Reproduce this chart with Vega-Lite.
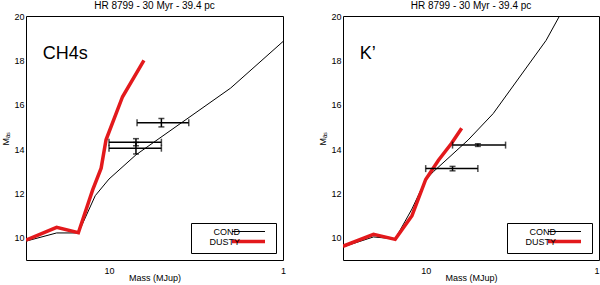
{
  "$schema": "https://vega.github.io/schema/vega-lite/v6.json",
  "padding": {"left": 1, "top": 0, "right": 3, "bottom": 0},
  "background": "white",
  "config": {
    "font": "Liberation Sans",
    "view": {"stroke": "black", "strokeWidth": 1},
    "axis": {"labelFont": "Liberation Sans", "titleFont": "Liberation Sans", "labelFontSize": 9, "titleFontSize": 9, "titleFontWeight": "normal", "labelColor": "black", "titleColor": "black", "domainColor": "black", "tickColor": "black", "grid": false},
    "title": {"font": "Liberation Sans", "fontSize": 10, "fontWeight": "normal", "color": "black", "offset": 1},
    "concat": {"spacing": 31}
  },
  "datasets": {
    "lines": [
      {"panel": "CH4s", "series": "COND", "m": 30, "y": 9.85},
      {"panel": "CH4s", "series": "COND", "m": 20, "y": 10.22},
      {"panel": "CH4s", "series": "COND", "m": 15, "y": 10.22},
      {"panel": "CH4s", "series": "COND", "m": 12, "y": 11.9},
      {"panel": "CH4s", "series": "COND", "m": 10, "y": 12.65},
      {"panel": "CH4s", "series": "COND", "m": 7, "y": 13.74},
      {"panel": "CH4s", "series": "COND", "m": 2, "y": 16.75},
      {"panel": "CH4s", "series": "COND", "m": 1, "y": 18.85},
      {"panel": "CH4s", "series": "DUSTY", "m": 30, "y": 9.9},
      {"panel": "CH4s", "series": "DUSTY", "m": 20, "y": 10.47},
      {"panel": "CH4s", "series": "DUSTY", "m": 15, "y": 10.23},
      {"panel": "CH4s", "series": "DUSTY", "m": 12.4, "y": 12.17},
      {"panel": "CH4s", "series": "DUSTY", "m": 11.1, "y": 13.14},
      {"panel": "CH4s", "series": "DUSTY", "m": 10.4, "y": 14.42},
      {"panel": "CH4s", "series": "DUSTY", "m": 8.36, "y": 16.36},
      {"panel": "CH4s", "series": "DUSTY", "m": 6.3, "y": 18.0},
      {"panel": "K'", "series": "COND", "m": 30, "y": 9.59},
      {"panel": "K'", "series": "COND", "m": 20, "y": 10.04},
      {"panel": "K'", "series": "COND", "m": 15, "y": 9.95},
      {"panel": "K'", "series": "COND", "m": 12, "y": 11.3},
      {"panel": "K'", "series": "COND", "m": 10, "y": 12.62},
      {"panel": "K'", "series": "COND", "m": 9, "y": 12.99},
      {"panel": "K'", "series": "COND", "m": 5.69, "y": 14.41},
      {"panel": "K'", "series": "COND", "m": 4.08, "y": 15.6},
      {"panel": "K'", "series": "COND", "m": 2.02, "y": 18.9},
      {"panel": "K'", "series": "COND", "m": 1.69, "y": 20.0},
      {"panel": "K'", "series": "COND", "m": 1.5, "y": 20.7},
      {"panel": "K'", "series": "DUSTY", "m": 30, "y": 9.62},
      {"panel": "K'", "series": "DUSTY", "m": 20, "y": 10.16},
      {"panel": "K'", "series": "DUSTY", "m": 15, "y": 9.93},
      {"panel": "K'", "series": "DUSTY", "m": 12, "y": 11.0},
      {"panel": "K'", "series": "DUSTY", "m": 10, "y": 12.63},
      {"panel": "K'", "series": "DUSTY", "m": 8.44, "y": 13.5},
      {"panel": "K'", "series": "DUSTY", "m": 7.09, "y": 14.26},
      {"panel": "K'", "series": "DUSTY", "m": 6.2, "y": 14.94}
    ],
    "err": [
      {"panel": "CH4s", "m": 5, "y": 15.19, "xlo": 6.9, "xhi": 3.48, "ylo": 15.0, "yhi": 15.38},
      {"panel": "CH4s", "m": 7, "y": 14.31, "xlo": 10, "xhi": 5, "ylo": 14.15, "yhi": 14.47},
      {"panel": "CH4s", "m": 7, "y": 14.04, "xlo": 10, "xhi": 5, "ylo": 13.78, "yhi": 14.3},
      {"panel": "K'", "m": 5, "y": 14.18, "xlo": 7, "xhi": 3.46, "ylo": 14.12, "yhi": 14.24},
      {"panel": "K'", "m": 7, "y": 13.12, "xlo": 10, "xhi": 5, "ylo": 13.02, "yhi": 13.22}
    ],
    "labels": [
      {"panel": "CH4s", "text": "CH4s", "m": 24, "y": 18.3},
      {"panel": "K'", "text": "K’", "m": 24, "y": 18.3}
    ]
  },
  "hconcat": [
    {
      "width": 257,
      "height": 244,
      "title": "HR 8799 - 30 Myr - 39.4 pc",
      "layer": [
        {
          "data": {"name": "lines"},
          "transform": [{"filter": "datum.panel === 'CH4s'"}],
          "mark": {"type": "line", "clip": true},
          "encoding": {
            "x": {"field": "m", "type": "quantitative", "title": "Mass (MJup)", "scale": {"type": "log", "domain": [1, 30], "reverse": true, "nice": false},
              "axis": {"orient": "bottom", "title": "Mass (MJup)", "values": [1, 10], "format": "d", "ticks": false, "tickSize": 0, "domain": false, "labelPadding": 6, "titlePadding": -2, "labelFlush": false}},
            "y": {"field": "y", "type": "quantitative", "title": "Mₐₛ", "scale": {"domain": [9, 20], "nice": false, "zero": false},
              "axis": {"orient": "left", "title": "Mₐₛ", "values": [10, 12, 14, 16, 18, 20], "format": "d", "ticks": false, "tickSize": 0, "domain": false, "labelPadding": 2, "titlePadding": 3}},
            "color": {"field": "series", "type": "nominal", "scale": {"domain": ["COND", "DUSTY"], "range": ["black", "#e3191c"]},
              "legend": {"orient": "bottom-right", "title": null, "strokeColor": "black", "fillColor": "white", "padding": 4, "offset": 7, "symbolType": "stroke", "symbolSize": 1089, "labelFontSize": 9, "labelAlign": "right", "labelOffset": -13, "symbolOffset": 49, "rowPadding": -3, "labelColor": "black",
                "encode": {"symbols": {"update": {"strokeWidth": {"signal": "datum.label === 'DUSTY' ? 3.5 : 1"}}}}}},
            "strokeWidth": {"condition": {"test": "datum.series === 'DUSTY'", "value": 3.5}, "value": 1}
          }
        },
        {
          "mark": {"type": "rule", "strokeDash": [4, 3], "color": "black", "strokeWidth": 1},
          "encoding": {"y": {"datum": 19.1, "title": "Mₐₛ"}}
        },
        {
          "data": {"name": "labels"},
          "transform": [{"filter": "datum.panel === 'CH4s'"}],
          "mark": {"type": "text", "align": "left", "baseline": "middle", "fontSize": 18, "color": "black"},
          "encoding": {
            "x": {"field": "m", "type": "quantitative", "title": "Mass (MJup)"},
            "y": {"field": "y", "type": "quantitative", "title": "Mₐₛ"},
            "text": {"field": "text"}
          }
        },
        {
          "data": {"name": "err"},
          "transform": [{"filter": "datum.panel === 'CH4s'"}],
          "mark": {"type": "errorbar", "ticks": {"size": 7}, "color": "black", "thickness": 1.5},
          "encoding": {
            "x": {"field": "xlo", "type": "quantitative", "title": "Mass (MJup)"},
            "x2": {"field": "xhi"},
            "y": {"field": "y", "type": "quantitative", "title": "Mₐₛ"}
          }
        },
        {
          "data": {"name": "err"},
          "transform": [{"filter": "datum.panel === 'CH4s'"}],
          "mark": {"type": "errorbar", "ticks": {"size": 6}, "color": "black", "thickness": 1.5},
          "encoding": {
            "y": {"field": "ylo", "type": "quantitative", "title": "Mₐₛ"},
            "y2": {"field": "yhi"},
            "x": {"field": "m", "type": "quantitative", "title": "Mass (MJup)"}
          }
        }
      ]
    },
    {
      "width": 256,
      "height": 244,
      "title": "HR 8799 - 30 Myr - 39.4 pc",
      "layer": [
        {
          "data": {"name": "lines"},
          "transform": [{"filter": "datum.panel === \"K'\""}],
          "mark": {"type": "line", "clip": true},
          "encoding": {
            "x": {"field": "m", "type": "quantitative", "title": "Mass (MJup)", "scale": {"type": "log", "domain": [1, 30], "reverse": true, "nice": false},
              "axis": {"orient": "bottom", "title": "Mass (MJup)", "values": [1, 10], "format": "d", "ticks": false, "tickSize": 0, "domain": false, "labelPadding": 6, "titlePadding": -2, "labelFlush": true}},
            "y": {"field": "y", "type": "quantitative", "title": "Mₐₛ", "scale": {"domain": [9, 20], "nice": false, "zero": false},
              "axis": {"orient": "left", "title": "Mₐₛ", "values": [10, 12, 14, 16, 18, 20], "format": "d", "ticks": false, "tickSize": 0, "domain": false, "labelPadding": 2, "titlePadding": 3}},
            "color": {"field": "series", "type": "nominal", "scale": {"domain": ["COND", "DUSTY"], "range": ["black", "#e3191c"]},
              "legend": {"orient": "bottom-right", "title": null, "strokeColor": "black", "fillColor": "white", "padding": 4, "offset": 7, "symbolType": "stroke", "symbolSize": 1089, "labelFontSize": 9, "labelAlign": "right", "labelOffset": -13, "symbolOffset": 49, "rowPadding": -3, "labelColor": "black",
                "encode": {"symbols": {"update": {"strokeWidth": {"signal": "datum.label === 'DUSTY' ? 3.5 : 1"}}}}}},
            "strokeWidth": {"condition": {"test": "datum.series === 'DUSTY'", "value": 3.5}, "value": 1}
          }
        },
        {
          "mark": {"type": "rule", "strokeDash": [4, 3], "color": "black", "strokeWidth": 1},
          "encoding": {"y": {"datum": 19.43, "title": "Mₐₛ"}}
        },
        {
          "data": {"name": "labels"},
          "transform": [{"filter": "datum.panel === \"K'\""}],
          "mark": {"type": "text", "align": "left", "baseline": "middle", "fontSize": 18, "color": "black"},
          "encoding": {
            "x": {"field": "m", "type": "quantitative", "title": "Mass (MJup)"},
            "y": {"field": "y", "type": "quantitative", "title": "Mₐₛ"},
            "text": {"field": "text"}
          }
        },
        {
          "data": {"name": "err"},
          "transform": [{"filter": "datum.panel === \"K'\""}],
          "mark": {"type": "errorbar", "ticks": {"size": 7}, "color": "black", "thickness": 1.5},
          "encoding": {
            "x": {"field": "xlo", "type": "quantitative", "title": "Mass (MJup)"},
            "x2": {"field": "xhi"},
            "y": {"field": "y", "type": "quantitative", "title": "Mₐₛ"}
          }
        },
        {
          "data": {"name": "err"},
          "transform": [{"filter": "datum.panel === \"K'\""}],
          "mark": {"type": "errorbar", "ticks": {"size": 6}, "color": "black", "thickness": 1.5},
          "encoding": {
            "y": {"field": "ylo", "type": "quantitative", "title": "Mₐₛ"},
            "y2": {"field": "yhi"},
            "x": {"field": "m", "type": "quantitative", "title": "Mass (MJup)"}
          }
        }
      ]
    }
  ],
  "resolve": {"scale": {"color": "independent"}, "legend": {"color": "independent"}}
}
